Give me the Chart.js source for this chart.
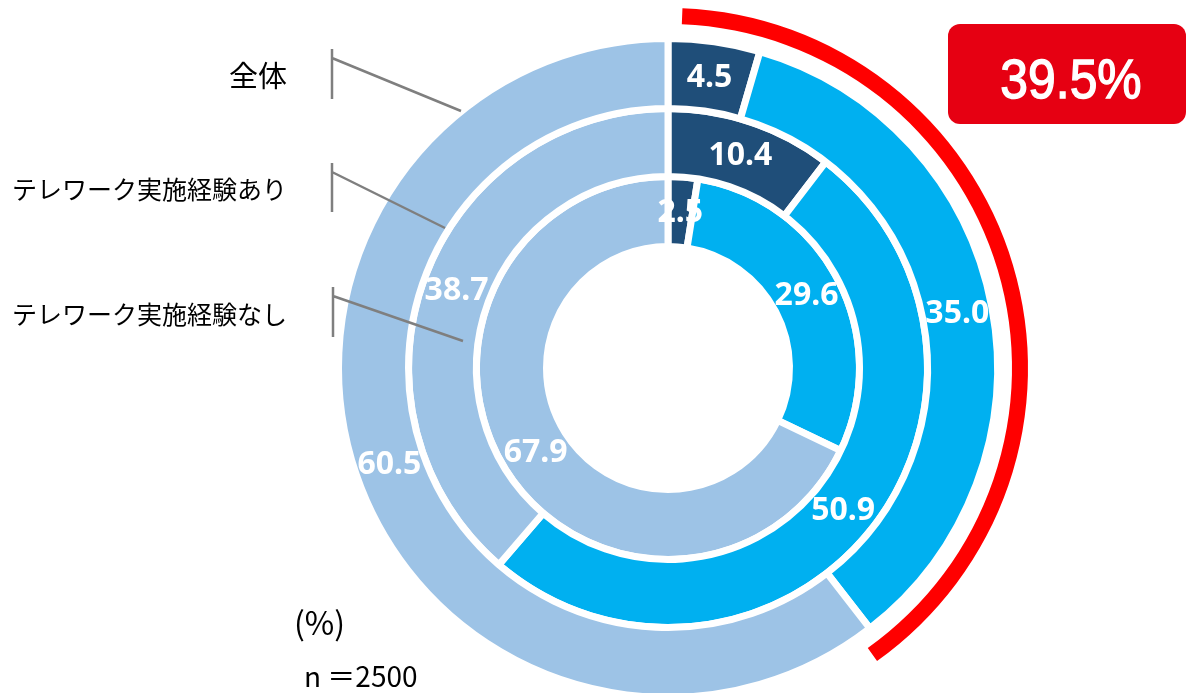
<!DOCTYPE html>
<html lang="ja">
<head>
<meta charset="utf-8">
<title>テレワーク実施経験別</title>
<script src="https://cdn.jsdelivr.net/npm/chart.js@4/dist/chart.umd.min.js"></script>
<style>
html, body { margin: 0; padding: 0; background: #fff; overflow: hidden; }
#wrap { position: relative; width: 1186px; height: 693px; overflow: hidden; }
#chart { position: absolute; left: 0; top: 0; }
</style>
</head>
<body>
<div id="wrap"><canvas id="chart" width="1186" height="736"></canvas></div>
<script>
// rings, outside to inside
const ringLabels = ['全体', 'テレワーク実施経験あり', 'テレワーク実施経験なし']
const categories = ['A', 'B', 'C']
const overall = [4.5, 35.0, 60.5]
const withTelework = [10.4, 50.9, 38.7]
const withoutTelework = [2.5, 29.6, 67.9]
const sampleSize = 2500

const colors = ['#1F4E79', '#00B0F0', '#9DC3E6']

// share highlighted by the red arc = first two categories of 全体
const highlight = Math.round((overall[0] + overall[1]) * 10) / 10

// leader line + ring label layout
const leaders = [
  { x: 332, top: 49, bottom: 99, y: 58, ex: 461, ey: 111, ty: 76, size: 29 },
  { x: 332, top: 163, bottom: 212, y: 172, ex: 445, ey: 228, ty: 189, size: 25 },
  { x: 333, top: 287, bottom: 337, y: 296, ex: 463, ey: 341, ty: 314, size: 25 }
]

const ringText = {
  id: 'ringText',
  afterDatasetsDraw(chart) {
    const ctx = chart.ctx
    ctx.save()
    ctx.fillStyle = '#fff'
    ctx.font = 'bold 32px "Noto Sans"'
    ctx.textAlign = 'center'
    ctx.textBaseline = 'middle'
    chart.data.datasets.forEach((ds, i) => {
      if (!ds.showValues) return
      chart.getDatasetMeta(i).data.forEach((arc, j) => {
        const p = arc.getCenterPoint()
        ctx.fillText(ds.data[j].toFixed(1), p.x, p.y + 1)
      })
    })
    ctx.restore()
  }
}

const notes = {
  id: 'notes',
  afterDraw(chart) {
    const ctx = chart.ctx
    ctx.save()

    // leaders to each ring
    ctx.strokeStyle = '#7F7F7F'
    ctx.lineWidth = 2.5
    leaders.forEach(l => {
      ctx.beginPath()
      ctx.moveTo(l.x, l.top)
      ctx.lineTo(l.x, l.bottom)
      ctx.moveTo(l.x, l.y)
      ctx.lineTo(l.ex, l.ey)
      ctx.stroke()
    })

    ctx.fillStyle = '#000'
    ctx.textAlign = 'right'
    ctx.textBaseline = 'middle'
    ringLabels.forEach((t, i) => {
      ctx.font = leaders[i].size + 'px "Noto Sans CJK JP"'
      ctx.fillText(t, 287, leaders[i].ty)
    })

    ctx.textAlign = 'left'
    ctx.font = '32px "Noto Sans CJK JP"'
    ctx.fillText('(%)', 294, 623)
    ctx.font = '28px "Noto Sans CJK JP"'
    ctx.fillText('n ＝' + sampleSize, 304, 676)

    // badge
    ctx.fillStyle = '#E60012'
    ctx.beginPath()
    ctx.roundRect(948, 24, 238, 100, 12)
    ctx.fill()
    ctx.fillStyle = '#fff'
    ctx.strokeStyle = '#fff'
    ctx.lineWidth = 1.4
    ctx.font = '56px "Liberation Sans"'
    ctx.textAlign = 'center'
    ctx.textBaseline = 'alphabetic'
    ctx.translate(1071, 98)
    ctx.scale(0.89, 1)
    const badge = highlight.toFixed(1) + '%'
    ctx.fillText(badge, 0, 0)
    ctx.strokeText(badge, 0, 0)

    ctx.restore()
  }
}

const ringStyle = {
  backgroundColor: colors,
  borderColor: '#fff',
  borderWidth: 7,
  showValues: true
}

new Chart(document.getElementById('chart'), {
  type: 'doughnut',
  data: {
    labels: categories,
    datasets: [
      {
        label: 'highlight',
        data: [highlight, 100 - highlight],
        backgroundColor: ['#FF0000', 'rgba(0,0,0,0)'],
        borderWidth: 0,
        rotation: 2.3,
        weight: 16
      },
      {
        label: 'gap',
        data: [100],
        backgroundColor: ['rgba(0,0,0,0)'],
        borderWidth: 0,
        weight: 14.5
      },
      { label: ringLabels[0], data: overall, weight: 70, ...ringStyle },
      { label: ringLabels[1], data: withTelework, weight: 68, ...ringStyle },
      { label: ringLabels[2], data: withoutTelework, weight: 70, ...ringStyle }
    ]
  },
  options: {
    responsive: false,
    animation: false,
    events: [],
    radius: 360,
    cutout: '33.75%',
    layout: { padding: { left: 308, right: 158, top: 8, bottom: 8 } },
    plugins: {
      legend: { display: false },
      tooltip: { enabled: false }
    }
  },
  plugins: [ringText, notes]
})
</script>
</body>
</html>
